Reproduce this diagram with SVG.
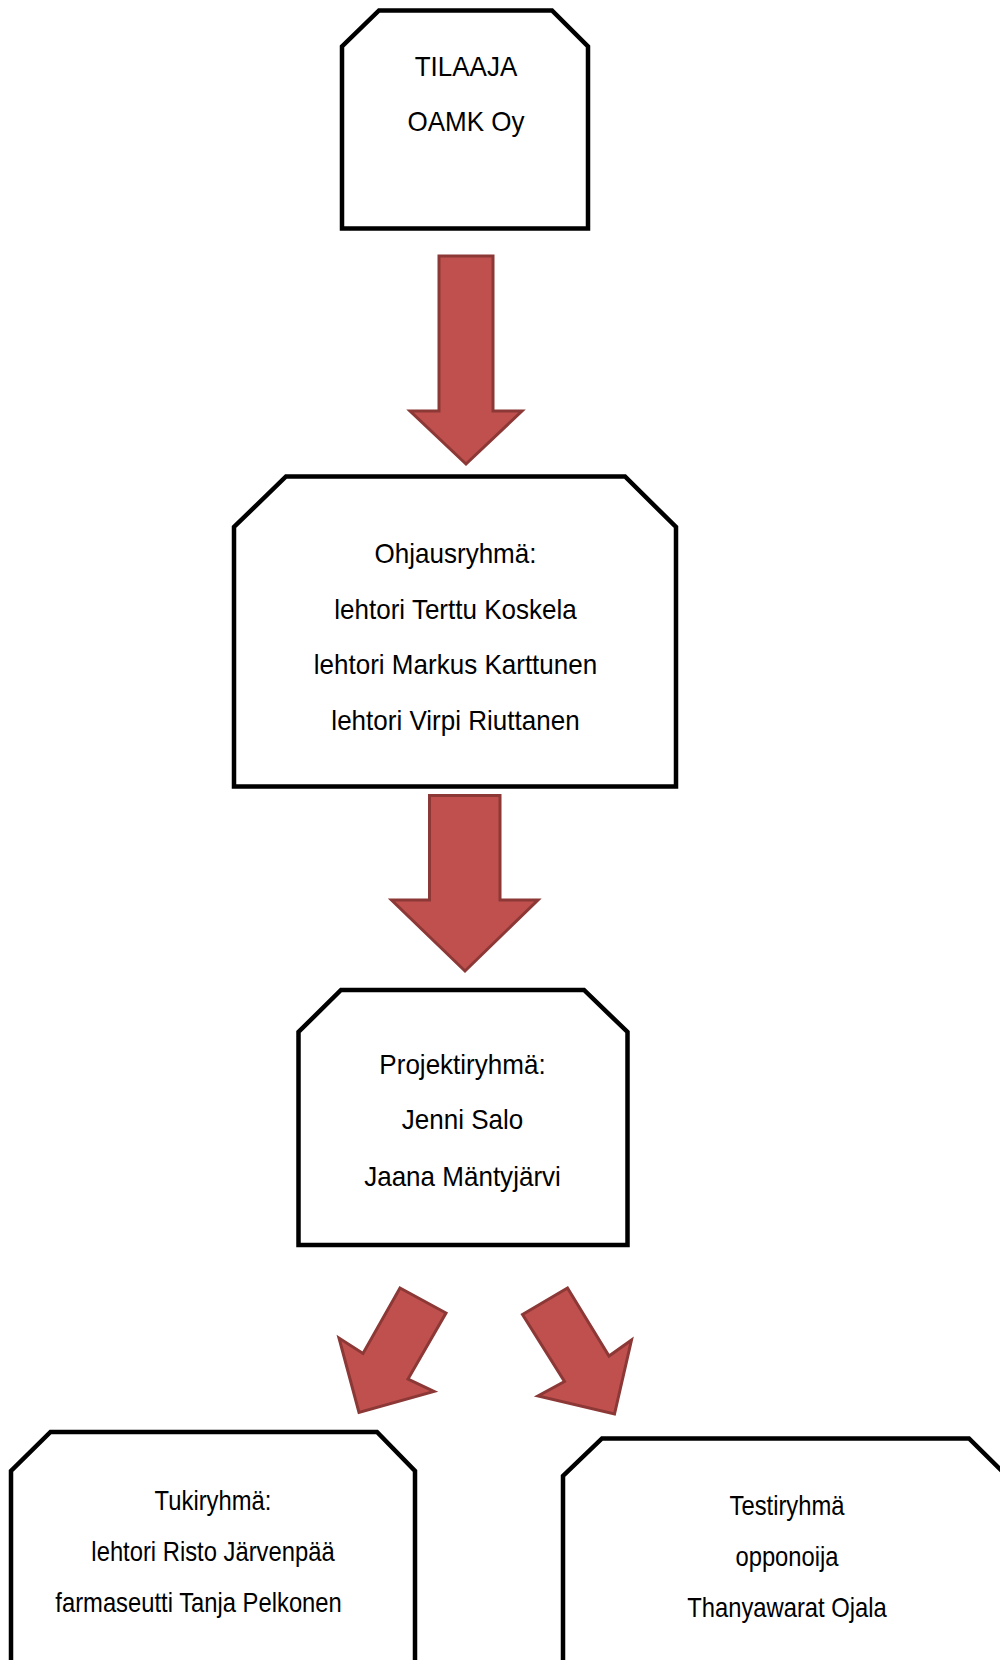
<svg xmlns="http://www.w3.org/2000/svg" width="1000" height="1660" viewBox="0 0 1000 1660">
<style>
.box{fill:#fff;stroke:#000;stroke-width:4.5;stroke-linejoin:miter}
.arr{fill:#C0504D;stroke:#8C3836;stroke-width:3;stroke-linejoin:miter}
.t{font-family:"Liberation Sans",Arial,sans-serif;font-size:28px;fill:#000;text-anchor:middle}
</style>
<rect width="1000" height="1660" fill="#fff"/>
<g id="connectors">
<polygon class="arr" points="439,256 493,256 493,411 522,411 466,464 410,411 439,411"/>
<polygon class="arr" points="429.5,795.5 500,795.5 500,900 538,900 465,971 391.5,900 429.5,900"/>
<polygon class="arr" points="400,1288 446,1313 408,1379 434,1391.5 359,1412.5 339,1338 363,1353.5"/>
<polygon class="arr" points="522.5,1314.5 567.5,1288 609,1356 631.5,1340 614.5,1414 538,1396 564.5,1381.5"/>
</g>
<g id="tilaaja">
<polygon class="box" points="379,10.5 552,10.5 588,46.5 588,228.5 342,228.5 342,46.5"/>
<g transform="translate(466 0) scale(0.93 1)">
<text class="t" x="0" y="76">TILAAJA</text>
<text class="t" x="0" y="131">OAMK Oy</text>
</g>
</g>
<g id="ohjausryhma">
<polygon class="box" points="286,476.5 625,476.5 676,527 676,786.5 234,786.5 234,527"/>
<g transform="translate(455.5 0) scale(0.93 1)">
<text class="t" x="0" y="563">Ohjausryhmä:</text>
<text class="t" x="0" y="619">lehtori Terttu Koskela</text>
<text class="t" x="0" y="674">lehtori Markus Karttunen</text>
<text class="t" x="0" y="730">lehtori Virpi Riuttanen</text>
</g>
</g>
<g id="projektiryhma">
<polygon class="box" points="341,990 584,990 627.5,1032 627.5,1245 298.5,1245 298.5,1032"/>
<g transform="translate(462.5 0) scale(0.93 1)">
<text class="t" x="0" y="1074">Projektiryhmä:</text>
<text class="t" x="0" y="1129">Jenni Salo</text>
<text class="t" x="0" y="1186">Jaana Mäntyjärvi</text>
</g>
</g>
<g id="tukiryhma">
<polygon class="box" points="50.5,1432 377,1432 415,1471 415,1700 11,1700 11,1471"/>
<g transform="translate(213 0) scale(0.85 1)">
<text class="t" x="0" y="1510">Tukiryhmä:</text>
<text class="t" x="0" y="1561">lehtori Risto Järvenpää</text>
<text class="t" x="-17" y="1612">farmaseutti Tanja Pelkonen</text>
</g>
</g>
<g id="testiryhma">
<polygon class="box" points="602,1438.5 969,1438.5 1008,1477 1008,1700 563,1700 563,1476"/>
<g transform="translate(787 0) scale(0.85 1)">
<text class="t" x="0" y="1515">Testiryhmä</text>
<text class="t" x="0" y="1566">opponoija</text>
<text class="t" x="0" y="1617">Thanyawarat Ojala</text>
</g>
</g>
</svg>
